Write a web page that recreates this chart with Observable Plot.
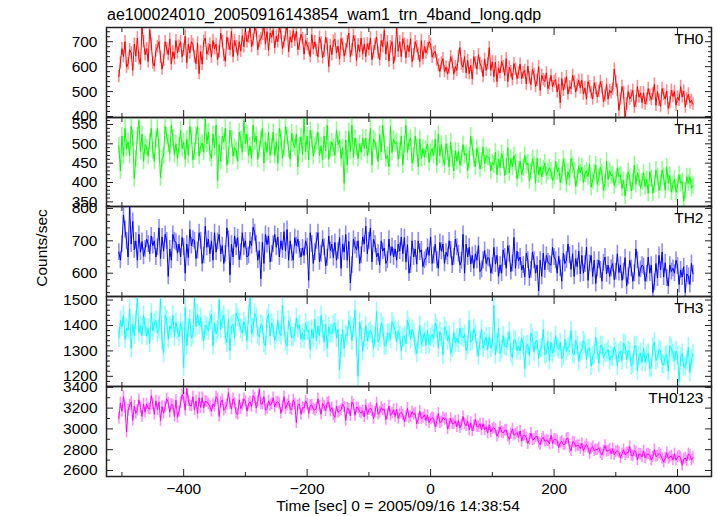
<!DOCTYPE html>
<html><head><meta charset="utf-8">
<script src="https://cdn.jsdelivr.net/npm/d3@7"></script>
<script src="https://cdn.jsdelivr.net/npm/@observablehq/plot@0.6"></script>
<style>
body{margin:0;background:#fff;}
#chart{position:relative;width:717px;height:516px;font-family:"Liberation Sans",Arial,Helvetica,sans-serif;color:#000;}
#chart svg{position:absolute;left:0;overflow:visible;}
.lbl{position:absolute;white-space:nowrap;line-height:1;}
</style></head><body><div id="chart"></div>
<script>
const title = "ae100024010_20050916143854_wam1_trn_4band_long.qdp";
const yTitle = "Counts/sec";
const xTitle = "Time [sec] 0 = 2005/09/16 14:38:54";
const bandNames = ["TH0","TH1","TH2","TH3","TH0123"];

const time = [
-505,-502.5,-500,-497.5,-495,-492.5,-490,-487.5,-485,-482.5,-480,-477.5,-475,-472.5,-470,-467.5,-465,-462.5,-460,-457.5,
-455,-452.5,-450,-447.5,-445,-442.5,-440,-437.5,-435,-432.5,-430,-427.5,-425,-422.5,-420,-417.5,-415,-412.5,-410,-407.5,
-405,-402.5,-400,-397.5,-395,-392.5,-390,-387.5,-385,-382.5,-380,-377.5,-375,-372.5,-370,-367.5,-365,-362.5,-360,-357.5,
-355,-352.5,-350,-347.5,-345,-342.5,-340,-337.5,-335,-332.5,-330,-327.5,-325,-322.5,-320,-317.5,-315,-312.5,-310,-307.5,
-305,-302.5,-300,-297.5,-295,-292.5,-290,-287.5,-285,-282.5,-280,-277.5,-275,-272.5,-270,-267.5,-265,-262.5,-260,-257.5,
-255,-252.5,-250,-247.5,-245,-242.5,-240,-237.5,-235,-232.5,-230,-227.5,-225,-222.5,-220,-217.5,-215,-212.5,-210,-207.5,
-205,-202.5,-200,-197.5,-195,-192.5,-190,-187.5,-185,-182.5,-180,-177.5,-175,-172.5,-170,-167.5,-165,-162.5,-160,-157.5,
-155,-152.5,-150,-147.5,-145,-142.5,-140,-137.5,-135,-132.5,-130,-127.5,-125,-122.5,-120,-117.5,-115,-112.5,-110,-107.5,
-105,-102.5,-100,-97.5,-95,-92.5,-90,-87.5,-85,-82.5,-80,-77.5,-75,-72.5,-70,-67.5,-65,-62.5,-60,-57.5,
-55,-52.5,-50,-47.5,-45,-42.5,-40,-37.5,-35,-32.5,-30,-27.5,-25,-22.5,-20,-17.5,-15,-12.5,-10,-7.5,
-5,-2.5,0,2.5,5,7.5,10,12.5,15,17.5,20,22.5,25,27.5,30,32.5,35,37.5,40,42.5,
45,47.5,50,52.5,55,57.5,60,62.5,65,67.5,70,72.5,75,77.5,80,82.5,85,87.5,90,92.5,
95,97.5,100,102.5,105,107.5,110,112.5,115,117.5,120,122.5,125,127.5,130,132.5,135,137.5,140,142.5,
145,147.5,150,152.5,155,157.5,160,162.5,165,167.5,170,172.5,175,177.5,180,182.5,185,187.5,190,192.5,
195,197.5,200,202.5,205,207.5,210,212.5,215,217.5,220,222.5,225,227.5,230,232.5,235,237.5,240,242.5,
245,247.5,250,252.5,255,257.5,260,262.5,265,267.5,270,272.5,275,277.5,280,282.5,285,287.5,290,292.5,
295,297.5,300,302.5,305,307.5,310,312.5,315,317.5,320,322.5,325,327.5,330,332.5,335,337.5,340,342.5,
345,347.5,350,352.5,355,357.5,360,362.5,365,367.5,370,372.5,375,377.5,380,382.5,385,387.5,390,392.5,
395,397.5,400,402.5,405,407.5,410,412.5,415,417.5,420,422.5,425];

const th0 = [
560,615,672,640,700,598,612,668,655,585,690,642,715,632,610,755,700,648,672,620,
748,690,615,602,664,680,700,638,590,625,700,672,648,710,610,660,632,705,655,682,
700,640,668,722,615,690,655,700,688,640,612,695,572,660,610,702,715,650,668,690,
638,705,672,690,628,660,735,700,645,622,718,690,668,742,640,705,680,645,700,662,
725,680,748,700,718,760,680,705,755,742,668,702,712,730,765,690,740,665,735,718,
748,675,722,700,760,735,672,700,728,770,660,720,698,745,705,742,668,690,730,712,
650,705,688,672,640,728,672,700,665,640,718,695,635,662,718,690,600,685,648,702,
710,655,682,630,712,690,642,668,700,735,640,668,725,700,625,688,660,715,650,690,
640,692,668,715,628,660,690,718,655,628,705,680,745,650,700,622,680,700,612,648,
755,662,700,640,712,690,635,685,660,712,620,648,700,680,650,620,705,632,680,655,
672,700,690,638,655,660,625,605,580,615,632,580,598,570,595,640,618,570,600,585,
640,676,610,598,640,575,625,572,605,550,640,615,590,648,612,600,560,630,585,612,
676,585,620,560,618,540,595,575,620,600,565,632,540,598,580,548,612,590,552,575,
610,552,575,585,530,602,555,528,590,570,520,545,600,505,565,548,540,575,512,530,
565,520,540,548,498,530,455,552,505,530,560,490,520,512,565,540,498,525,545,515,
545,490,515,470,540,520,495,470,535,512,478,500,540,515,460,482,528,470,505,495,
510,590,540,505,425,470,520,495,395,450,500,470,482,505,438,460,520,478,495,455,
495,450,470,512,485,468,490,530,445,500,465,440,512,488,470,502,432,455,505,480,
500,445,478,465,520,478,502,438,470,490,455,465,450];

const th1 = [
495,430,520,468,540,488,505,470,545,515,410,462,520,560,480,525,455,498,490,468,
505,540,482,455,512,540,490,412,460,470,545,520,500,475,548,515,472,500,462,495,
535,488,505,460,512,470,545,520,458,480,520,545,468,495,502,478,565,500,530,475,
462,525,490,548,405,498,455,520,505,540,445,470,535,512,468,490,482,455,530,510,
478,560,500,525,470,495,462,548,505,520,460,485,512,540,450,505,478,530,470,492,
530,470,505,450,540,515,462,488,545,520,485,460,528,500,490,525,440,495,518,472,
565,480,520,458,535,512,468,495,505,530,470,495,458,520,482,548,460,485,505,490,
470,535,498,510,462,490,398,510,445,532,480,548,465,515,490,462,500,478,515,488,
515,470,490,540,445,512,505,482,455,525,478,548,498,462,470,440,545,478,512,500,
505,460,482,520,445,498,548,478,505,515,450,468,520,490,440,512,462,488,465,485,
500,452,478,488,470,512,445,525,470,498,462,445,500,478,440,505,462,430,482,455,
480,445,462,498,470,475,430,458,520,490,462,440,488,470,435,455,492,448,470,465,
465,430,452,445,478,420,460,438,475,458,418,440,490,425,462,440,470,452,410,432,
455,420,438,470,445,450,405,428,462,445,398,462,420,440,415,435,450,418,428,438,
430,405,415,455,428,438,400,418,460,440,395,428,412,462,445,430,390,410,442,425,
440,400,422,430,415,448,388,405,425,445,395,412,440,425,380,398,455,408,430,418,
420,392,405,438,415,420,385,405,365,398,428,412,378,400,445,395,425,412,385,402,
425,390,408,372,428,410,372,395,432,415,380,398,432,415,380,440,398,418,375,395,
408,375,390,420,398,402,352,378,415,398,415,385,392];

const th2 = [
665,640,690,780,735,700,650,805,690,760,672,700,640,720,665,698,652,675,705,690,
660,715,685,700,650,680,740,645,712,668,720,700,590,675,640,720,700,695,662,690,
650,710,680,600,690,648,735,685,705,700,645,670,725,700,630,655,745,680,705,660,
700,640,725,665,698,720,660,685,630,660,740,705,595,690,650,715,680,710,642,665,
725,680,700,650,655,700,685,742,725,690,640,670,583,695,630,720,688,715,635,660,
690,720,680,712,650,700,672,728,668,735,640,700,662,640,710,685,705,672,650,678,
655,700,682,578,725,690,630,665,700,725,635,660,705,680,622,648,715,670,690,648,
695,640,668,710,615,690,665,720,640,698,570,625,705,685,672,700,630,655,712,690,
745,660,700,740,635,705,690,650,662,625,700,668,678,630,640,705,655,682,650,675,
640,690,668,712,660,710,635,688,600,625,700,650,675,628,700,665,672,620,640,648,
680,655,712,630,655,690,640,615,695,668,690,630,665,652,700,672,625,650,705,680,
660,625,638,720,600,690,650,680,628,655,615,660,640,685,605,612,640,670,630,648,
645,600,622,680,628,655,590,625,600,672,650,615,685,660,605,630,710,615,668,638,
650,610,625,588,662,640,585,610,665,640,600,625,545,640,590,662,610,655,635,628,
625,680,650,640,600,652,615,575,662,630,640,690,655,612,660,590,645,620,668,598,
655,600,628,680,578,630,655,590,640,568,615,640,610,575,632,650,598,625,590,615,
630,580,605,660,602,625,578,605,648,560,590,640,615,575,600,675,640,590,612,625,
620,575,598,650,600,625,540,572,630,585,655,610,665,588,632,585,560,625,605,615,
600,640,622,565,610,588,620,540,598,590,565,630,598];

const th3 = [
1350,1420,1395,1440,1345,1390,1380,1465,1310,1405,1362,1420,1510,1372,1400,1360,1440,1395,1358,1390,
1330,1450,1378,1410,1420,1370,1385,1505,1340,1290,1440,1420,1345,1398,1385,1440,1355,1412,1380,1355,
1410,1380,1235,1470,1320,1390,1425,1350,1362,1510,1395,1445,1400,1430,1375,1340,1402,1395,1378,1420,
1445,1320,1410,1368,1380,1500,1385,1425,1440,1360,1332,1425,1300,1398,1405,1352,1450,1430,1412,1385,
1370,1415,1395,1340,1440,1510,1365,1390,1448,1430,1362,1355,1405,1400,1330,1320,1425,1445,1358,1410,
1390,1340,1365,1420,1372,1360,1480,1395,1335,1320,1420,1395,1352,1355,1370,1430,1388,1402,1345,1370,
1345,1410,1378,1380,1305,1385,1350,1425,1340,1398,1360,1440,1385,1335,1405,1310,1395,1370,1368,1402,
1410,1350,1385,1225,1325,1385,1310,1365,1360,1420,1398,1340,1390,1460,1315,1200,1412,1380,1298,1352,
1400,1340,1372,1380,1365,1310,1352,1455,1335,1350,1410,1395,1322,1320,1368,1370,1345,1415,1398,1380,
1335,1380,1362,1300,1350,1360,1328,1420,1392,1345,1385,1370,1318,1290,1345,1400,1325,1350,1372,1322,
1380,1325,1352,1365,1348,1410,1390,1310,1375,1355,1285,1395,1380,1340,1362,1290,1312,1375,1330,1350,
1330,1390,1358,1350,1365,1300,1322,1420,1335,1340,1388,1365,1312,1280,1340,1385,1310,1335,1355,1305,
1355,1310,1328,1480,1285,1330,1390,1290,1305,1360,1318,1315,1338,1375,1290,1275,1345,1340,1300,1318,
1300,1350,1325,1230,1322,1325,1280,1370,1350,1295,1338,1340,1270,1310,1312,1385,1285,1290,1340,1262,
1335,1290,1310,1360,1315,1305,1332,1270,1280,1345,1298,1315,1320,1380,1290,1285,1342,1320,1258,1298,
1300,1340,1328,1265,1310,1310,1240,1280,1288,1355,1302,1250,1322,1320,1275,1290,1295,1305,1262,1280,
1275,1315,1298,1240,1290,1300,1262,1330,1325,1265,1302,1295,1240,1250,1318,1320,1222,1280,1292,1255,
1310,1255,1282,1290,1230,1235,1315,1335,1262,1270,1305,1300,1248,1245,1278,1285,1220,1320,1310,1290,
1260,1300,1282,1180,1275,1290,1235,1240,1262,1315,1215,1270,1288];

const th0123 = [
3100,3250,3170,3310,3205,2970,3180,3230,3260,3080,3220,3150,3180,3280,3205,3120,3240,3160,3240,3195,
3190,3320,3240,3140,3270,3185,3260,3080,3215,3150,3210,3290,3250,3160,3235,3230,3120,3275,3110,3170,
3250,3330,3295,3180,3390,3270,3225,3220,3310,3185,3270,3150,3300,3205,3300,3200,3265,3260,3240,3215,
3170,3240,3215,3310,3290,3120,3255,3280,3180,3200,3235,3350,3245,3190,3290,3250,3150,3140,3280,3195,
3230,3290,3265,3170,3240,3260,3215,3320,3300,3200,3265,3380,3240,3240,3310,3180,3195,3270,3225,3240,
3300,3210,3255,3260,3245,3150,3215,3310,3195,3230,3270,3190,3185,3280,3240,3060,3225,3240,3140,3205,
3200,3270,3240,3150,3225,3230,3190,3180,3200,3290,3215,3140,3245,3220,3175,3250,3260,3170,3205,3135,
3110,3220,3160,3170,3185,3240,3210,3080,3200,3190,3125,3260,3230,3130,3210,3200,3165,3150,3175,3115,
3230,3140,3185,3200,3175,3100,3160,3250,3140,3160,3205,3180,3190,3090,3140,3220,3130,3150,3185,3120,
3190,3100,3145,3160,3135,3070,3120,3200,3110,3120,3165,3140,3150,3050,3095,3170,3100,3110,3135,3080,
3130,3060,3095,3110,3100,3020,3070,3150,3060,3070,3110,3090,3100,3000,3045,3100,3050,3050,3075,3020,
3080,3010,3040,3120,3050,3030,3075,2990,3060,2980,3030,3090,3020,3020,3050,2990,3050,2990,3020,2960,
3040,2970,3000,3010,2995,2930,2960,3020,2970,2960,2985,2990,2930,2900,2955,3000,2940,2950,2965,2920,
2980,2880,2935,2940,2915,2860,2900,2960,2895,2900,2925,2930,2870,2850,2900,2920,2880,2890,2885,2855,
2940,2860,2900,2900,2885,2820,2870,2880,2850,2850,2905,2910,2820,2790,2875,2870,2830,2840,2840,2810,
2860,2790,2825,2850,2820,2760,2810,2830,2790,2800,2800,2820,2770,2750,2790,2840,2785,2790,2805,2760,
2810,2750,2780,2790,2775,2720,2760,2800,2750,2770,2770,2830,2745,2740,2790,2780,2700,2760,2755,2730,
2790,2720,2755,2760,2745,2700,2730,2800,2735,2740,2765,2750,2715,2680,2720,2770,2715,2730,2740,2700,
2760,2700,2730,2740,2725,2650,2710,2720,2690,2760,2745,2700,2725];

const bandErrors = [25, 22, 26, 37, 55];

const series = [th0, th1, th2, th3, th0123];
const lineColors = ["#ff0000","#00ff00","#0000ff","#00ffff","#ff00ff"];
const errColors = ["#ff8c8c","#8cff8c","#8c8cff","#8cffff","#ff8cff"];
const yDomains = [[396,757],[338,568],[528,806],[1160,1514],[2542,3408]];
const yMajor = [100,50,100,100,200];
const yMinor = [20,10,20,20,100];
const xDomain = [-525, 455];
const xMajor = [-400,-200,0,200,400];
const xMinor = [-500,-300,-100,100,300];

const tops = [27, 117, 206, 296, 386];
const heights = [90, 89, 90, 90, 90];
const FS = 15.5;
const font = '"Liberation Sans",Arial,Helvetica,sans-serif';
const chart = document.getElementById("chart");
const ink = "#222";

function ticksIn(lo, hi, step) {
  const out = [];
  for (let v = Math.ceil(lo / step) * step; v <= hi + 1e-9; v += step) out.push(v);
  return out;
}

series.forEach((vals, i) => {
  const err = bandErrors[i];
  const n = Math.min(time.length, vals.length);
  const data = time.slice(0, n).map((t, j) => ({t, v: vals[j]}));
  const last = i === series.length - 1;
  const [lo, hi] = yDomains[i];
  const major = ticksIn(lo, hi, yMajor[i]);
  const minor = ticksIn(lo, hi, yMinor[i]).filter(v => !major.includes(v));
  const mb = last ? 40 : 1;
  const noText = () => "";
  const marks = [
    Plot.ruleX(data, {x: "t", y1: d => d.v - err, y2: d => d.v + err, stroke: errColors[i], strokeWidth: 1.6, clip: true}),
    Plot.line(data, {x: "t", y: "v", stroke: lineColors[i], strokeWidth: 1, clip: true}),
    Plot.frame({stroke: ink, strokeWidth: 1.5}),
    Plot.axisY({ticks: major, anchor: "left", tickSize: -7, tickFormat: noText, label: null, stroke: ink}),
    Plot.axisY({ticks: major, anchor: "right", tickSize: -7, tickFormat: noText, label: null, stroke: ink}),
    Plot.axisY({ticks: minor, anchor: "left", tickSize: -4, tickFormat: noText, label: null, stroke: ink}),
    Plot.axisY({ticks: minor, anchor: "right", tickSize: -4, tickFormat: noText, label: null, stroke: ink}),
    Plot.axisY({ticks: major, anchor: "left", tickSize: 0, tickPadding: 9, label: null, fontSize: FS, tickFormat: d => String(d)}),
    Plot.axisX({ticks: xMajor, anchor: "top", tickSize: -7, tickFormat: noText, label: null, stroke: ink}),
    Plot.axisX({ticks: xMinor, anchor: "top", tickSize: -4, tickFormat: noText, label: null, stroke: ink}),
    Plot.axisX({ticks: xMajor, anchor: "bottom", tickSize: -7, tickFormat: noText, label: null, stroke: ink}),
    Plot.axisX({ticks: xMinor, anchor: "bottom", tickSize: -4, tickFormat: noText, label: null, stroke: ink}),
    Plot.text([bandNames[i]], {frameAnchor: "top-right", textAnchor: "end", lineAnchor: "top", dx: -8, dy: 5, fontSize: FS, fill: "#000"})
  ];
  if (last) marks.push(Plot.axisX({ticks: xMajor, anchor: "bottom", tickSize: 0, tickPadding: 6, label: null, fontSize: FS}));
  const svg = Plot.plot({
    width: 717, height: 1 + heights[i] + mb,
    marginLeft: 106, marginRight: 6, marginTop: 1, marginBottom: mb,
    style: {fontFamily: font, fontSize: FS + "px", color: "#000", background: "transparent", overflow: "visible"},
    x: {domain: xDomain},
    y: {domain: [lo, hi]},
    marks
  });
  svg.style.top = (tops[i] - 1) + "px";
  chart.appendChild(svg);
});

function addLabel(text, css) {
  const d = document.createElement("div");
  d.className = "lbl";
  d.textContent = text;
  Object.assign(d.style, css);
  chart.appendChild(d);
}
addLabel(title, {left: "107px", top: "7px", fontSize: "16px"});
addLabel(xTitle, {left: "398px", top: "498px", fontSize: FS + "px", transform: "translateX(-50%)"});
addLabel(yTitle, {left: "42px", top: "248px", fontSize: FS + "px", transform: "translate(-50%,-50%) rotate(-90deg)"});
</script></body></html>
